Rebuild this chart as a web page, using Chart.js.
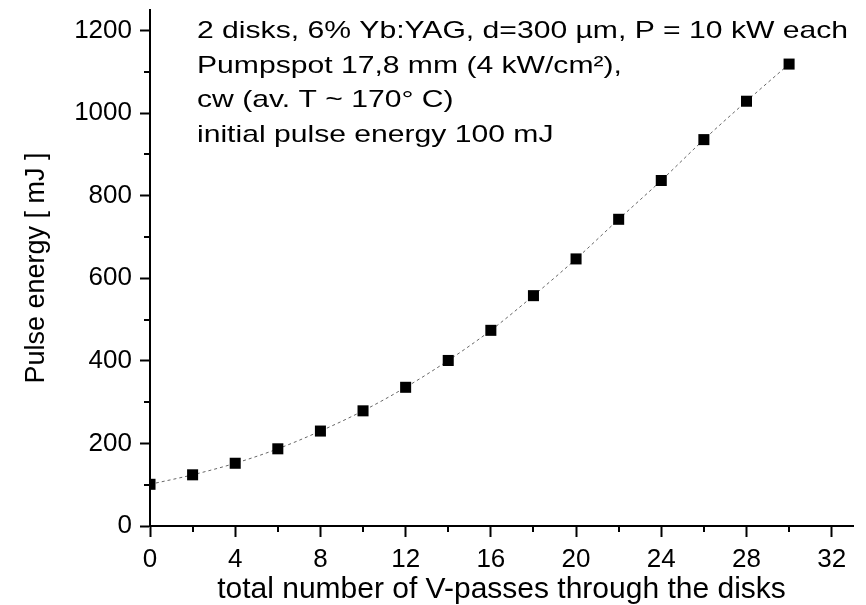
<!DOCTYPE html>
<html>
<head>
<meta charset="utf-8">
<script src="https://cdn.jsdelivr.net/npm/chart.js@4.4.1/dist/chart.umd.min.js"></script>
<style>
    html, body { margin: 0; padding: 0; background: #fff; }
    #wrap { width: 866px; height: 605px; }
</style>
</head>
<body>
<div id="wrap"><canvas id="myChart"></canvas></div>
<script>
const passes = [0, 2, 4, 6, 8, 10, 12, 14, 16, 18, 20, 22, 24, 26, 28, 30];
const energy = [101, 124, 152, 187, 230, 279, 336, 401, 474, 558, 647, 743, 837, 936, 1029, 1119];

const xTicks = [0, 4, 8, 12, 16, 20, 24, 28, 32];
const yTicks = [0, 200, 400, 600, 800, 1000, 1200];
const xMinor = [2, 6, 10, 14, 18, 22, 26, 30];
const yMinor = [100, 300, 500, 700, 900, 1100];

const noteLines = [
    "2 disks, 6% Yb:YAG, d=300 \u00b5m, P = 10 kW each",
    "Pumpspot 17,8 mm (4 kW/cm\u00b2),",
    "cw (av. T ~ 170\u00b0 C)",
    "initial pulse energy 100 mJ",
];

const FONT = "'Liberation Sans', Arial, sans-serif";

// minor ticks + text block in the upper left
const extras = {
    id: "extras",
    afterDraw(chart) {
        const ctx = chart.ctx;
        const xs = chart.scales.x;
        const ys = chart.scales.y;
        ctx.save();
        ctx.strokeStyle = "#000";
        ctx.lineWidth = 2;
        ctx.beginPath();
        xMinor.forEach(function (v) {
            const px = Math.round(xs.getPixelForValue(v));
            ctx.moveTo(px, xs.top);
            ctx.lineTo(px, xs.top + 6);
        });
        yMinor.forEach(function (v) {
            const py = Math.round(ys.getPixelForValue(v));
            ctx.moveTo(ys.right, py);
            ctx.lineTo(ys.right - 6, py);
        });
        ctx.stroke();

        ctx.fillStyle = "#000";
        ctx.font = "24px " + FONT;
        ctx.textBaseline = "alphabetic";
        const sx = 651 / ctx.measureText(noteLines[0]).width;
        const left = chart.chartArea.left + 47;
        noteLines.forEach(function (line, i) {
            ctx.save();
            ctx.translate(left, chart.chartArea.top + 28 + i * 34.7);
            ctx.scale(sx, 1);
            ctx.fillText(line, 0, 0);
            ctx.restore();
        });
        ctx.restore();
    },
};

const ctx1 = document.getElementById("myChart").getContext("2d");

const myChart = new Chart(ctx1, {
    type: "scatter",
    data: {
        datasets: [
            {
                label: "Pulse energy",
                data: passes.map((p, i) => ({ x: p, y: energy[i] })),
                showLine: true,
                borderColor: "#666",
                borderWidth: 1,
                borderDash: [3, 3],
                cubicInterpolationMode: "monotone",
                pointStyle: "rect",
                pointRadius: 7.8,
                pointHoverRadius: 7.8,
                pointBackgroundColor: "#000",
                pointBorderWidth: 0,
            },
        ],
    },
    options: {
        responsive: true,
        maintainAspectRatio: false,
        animation: false,
        layout: { padding: { top: 10, right: 13, left: 0, bottom: 0 } },
        plugins: {
            legend: { display: false },
            tooltip: { enabled: false },
        },
        scales: {
            x: {
                type: "linear",
                min: 0,
                max: 33,
                afterBuildTicks: (s) => { s.ticks = xTicks.map((v) => ({ value: v })); },
                afterFit: (s) => { s.height = 79; s.paddingLeft = 0; s.paddingRight = 0; },
                grid: { drawOnChartArea: false, tickLength: 11, tickWidth: 2, tickColor: "#000" },
                border: { color: "#000", width: 2 },
                ticks: {
                    color: "#000",
                    font: { family: FONT, size: 26 },
                    padding: 7,
                    maxRotation: 0,
                    callback: (v) => String(v),
                },
                title: {
                    display: true,
                    text: "total number of V-passes through the disks",
                    color: "#000",
                    font: { family: FONT, size: 30 },
                    padding: { top: 0, bottom: -3 },
                },
            },
            y: {
                min: 0,
                max: 1250,
                afterBuildTicks: (s) => { s.ticks = yTicks.map((v) => ({ value: v })); },
                afterFit: (s) => { s.width = 150; s.paddingTop = 0; s.paddingBottom = 0; },
                grid: { drawOnChartArea: false, tickLength: 10, tickWidth: 2, tickColor: "#000" },
                border: { color: "#000", width: 2 },
                ticks: {
                    color: "#000",
                    font: { family: FONT, size: 26 },
                    padding: 8,
                    callback: (v) => String(v),
                },
                title: {
                    display: true,
                    text: "Pulse energy [ mJ ]",
                    color: "#000",
                    font: { family: FONT, size: 27 },
                    padding: { top: 20, bottom: 0 },
                },
            },
        },
    },
    plugins: [extras],
});
</script>
</body>
</html>
